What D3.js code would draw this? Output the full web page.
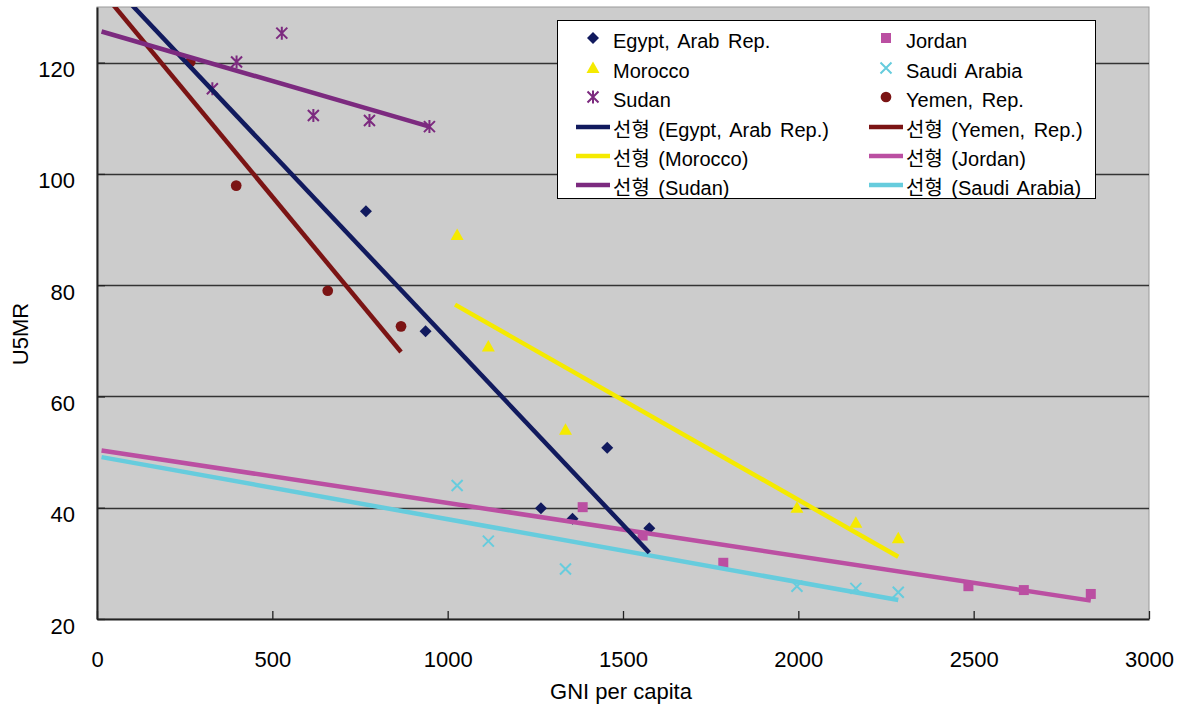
<!DOCTYPE html>
<html>
<head>
<meta charset="utf-8">
<script src="https://cdn.jsdelivr.net/npm/d3@7"></script>
<style>
  body { margin: 0; background: #fff; }
  text { font-family: "Liberation Sans", Arial, "Noto Sans CJK KR", sans-serif; fill: #000; }
</style>
</head>
<body>
<div id="chart"></div>
<script>
// U5MR vs GNI per capita, six countries with linear trend lines
var egyptX = [767, 937, 1266, 1356, 1455, 1575];
var egyptY = [93.3, 71.7, 39.9, 38.0, 50.8, 36.3];
var jordanX = [1385, 1556, 1786, 2485, 2643, 2834];
var jordanY = [40.1, 35.0, 30.1, 25.9, 25.2, 24.5];
var moroccoX = [1027, 1116, 1336, 1996, 2164, 2285];
var moroccoY = [89.0, 69.0, 54.0, 40.0, 37.3, 34.5];
var saudiX = [1027, 1116, 1336, 1996, 2164, 2285];
var saudiY = [44.0, 34.0, 29.0, 25.9, 25.5, 24.8];
var sudanX = [329, 398, 527, 617, 777, 948];
var sudanY = [115.3, 120.1, 125.3, 110.5, 109.6, 108.5];
var yemenX = [266, 397, 658, 867];
var yemenY = [120.1, 97.9, 79.0, 72.6];

// linear trend endpoints [x0, y0, x1, y1]
var egyptTrend = [0, 137.0, 1575, 31.9];
var jordanTrend = [13, 50.3, 2834, 23.3];
var moroccoTrend = [1021, 76.5, 2285, 31.2];
var saudiTrend = [13, 49.1, 2285, 23.4];
var sudanTrend = [13, 125.6, 948, 108.5];
var yemenTrend = [0, 133.9, 867, 68.0];

var xTicks = [0, 500, 1000, 1500, 2000, 2500, 3000];
var yTicks = [20, 40, 60, 80, 100, 120];

var series = [
    { name: "Egypt, Arab Rep.", xs: egyptX, ys: egyptY, trend: egyptTrend, color: "#111a5e", marker: "diamond" },
    { name: "Jordan", xs: jordanX, ys: jordanY, trend: jordanTrend, color: "#bb4fa2", marker: "square" },
    { name: "Morocco", xs: moroccoX, ys: moroccoY, trend: moroccoTrend, color: "#f5ea00", marker: "triangle" },
    { name: "Saudi Arabia", xs: saudiX, ys: saudiY, trend: saudiTrend, color: "#66ccdd", marker: "x" },
    { name: "Sudan", xs: sudanX, ys: sudanY, trend: sudanTrend, color: "#7c2a7f", marker: "star" },
    { name: "Yemen, Rep.", xs: yemenX, ys: yemenY, trend: yemenTrend, color: "#7b1414", marker: "circle" }
];
var byName = {};
series.forEach(function(s) { byName[s.name] = s; });

var svgWidth = 1181;
var svgHeight = 710;
var margin = { top: 7, right: 32, bottom: 91, left: 97 };
var width = svgWidth - margin.left - margin.right;
var height = svgHeight - margin.top - margin.bottom;

var svg = d3.select("#chart")
    .append("svg")
    .attr("width", svgWidth)
    .attr("height", svgHeight);

var chartGroup = svg.append("g")
    .attr("transform", `translate(${margin.left}, ${margin.top})`);

var xScale = d3.scaleLinear().domain([0, 3000]).range([0, width]);
var yScale = d3.scaleLinear().domain([20, 130]).range([height, 0]);

chartGroup.append("rect")
    .attr("width", width)
    .attr("height", height)
    .attr("fill", "#cccccc")
    .attr("stroke", "#9a9a9a")
    .attr("stroke-width", 1);

svg.append("clipPath").attr("id", "plotClip")
    .append("rect")
    .attr("width", width)
    .attr("height", height);

// gridlines
chartGroup.selectAll(".grid")
    .data(yTicks.slice(1))
    .enter()
    .append("line")
    .attr("x1", 0)
    .attr("x2", width)
    .attr("y1", d => Math.round(yScale(d)) + 0.5)
    .attr("y2", d => Math.round(yScale(d)) + 0.5)
    .attr("stroke", "#333")
    .attr("stroke-width", 1.3);

// axes
var bottomAxis = d3.axisBottom(xScale).tickValues(xTicks).tickFormat(d3.format("d"))
    .tickSizeInner(-8).tickSizeOuter(0).tickPadding(0);
var leftAxis = d3.axisLeft(yScale).tickValues(yTicks).tickFormat(d3.format("d"))
    .tickSizeInner(-8).tickSizeOuter(0).tickPadding(22);

var xAxisG = chartGroup.append("g")
    .attr("transform", `translate(0, ${height})`)
    .call(bottomAxis);
xAxisG.selectAll("text").attr("y", 48).attr("dy", null).attr("font-size", "22px");

var yAxisG = chartGroup.append("g").call(leftAxis);
yAxisG.selectAll("text").attr("y", 14).attr("dy", null).attr("font-size", "22px");

[xAxisG, yAxisG].forEach(function(g) {
    g.attr("font-family", null);
    g.select(".domain").attr("stroke", "#222").attr("stroke-width", 2);
    g.selectAll(".tick line").attr("stroke", "#222").attr("stroke-width", 1.3);
});

// markers
function markerPath(type) {
    if (type == "diamond") return "M0,-6L6,0L0,6L-6,0Z";
    if (type == "square") return "M-5,-5H5V5H-5Z";
    if (type == "triangle") return "M0,-6.5L6.5,5H-6.5Z";
    if (type == "circle") return d3.symbol().type(d3.symbolCircle).size(90)();
    if (type == "x") return "M-5.5,-5.5L5.5,5.5M-5.5,5.5L5.5,-5.5";
    return "M-5.5,-5.5L5.5,5.5M-5.5,5.5L5.5,-5.5M0,-6.5L0,6.5";
}
function drawMarker(g, s, px, py) {
    var stroked = s.marker == "x" || s.marker == "star";
    g.append("path")
        .attr("d", markerPath(s.marker))
        .attr("transform", `translate(${px}, ${py})`)
        .attr("fill", stroked ? "none" : s.color)
        .attr("stroke", stroked ? s.color : "none")
        .attr("stroke-width", 2);
}

var pointsGroup = chartGroup.append("g").attr("clip-path", "url(#plotClip)");
series.forEach(function(s) {
    s.xs.forEach(function(v, i) {
        drawMarker(pointsGroup, s, xScale(v), yScale(s.ys[i]));
    });
});

// trend lines, drawn over the markers
var trendOrder = ["Jordan", "Saudi Arabia", "Morocco", "Egypt, Arab Rep.", "Yemen, Rep.", "Sudan"];
var trendGroup = chartGroup.append("g").attr("clip-path", "url(#plotClip)");
trendOrder.forEach(function(n) {
    var s = byName[n];
    trendGroup.append("line")
        .attr("x1", xScale(s.trend[0]))
        .attr("y1", yScale(s.trend[1]))
        .attr("x2", xScale(s.trend[2]))
        .attr("y2", yScale(s.trend[3]))
        .attr("stroke", s.color)
        .attr("stroke-width", 4.5);
});

// axis titles
svg.append("text")
    .attr("x", 621)
    .attr("y", 699)
    .attr("text-anchor", "middle")
    .attr("font-size", "22px")
    .text("GNI per capita");

svg.append("text")
    .attr("transform", "translate(28, 334) rotate(-90)")
    .attr("text-anchor", "middle")
    .attr("font-size", "22px")
    .text("U5MR");

// legend
var legend = svg.append("g");
legend.append("rect")
    .attr("x", 557.5)
    .attr("y", 20.5)
    .attr("width", 538)
    .attr("height", 178)
    .attr("fill", "#fff")
    .attr("stroke", "#000")
    .attr("stroke-width", 1);

var legendRows = [41, 71, 100, 130, 159, 188];
var legendCols = [
    ["Egypt, Arab Rep.", "Morocco", "Sudan", "Egypt, Arab Rep.", "Morocco", "Sudan"],
    ["Jordan", "Saudi Arabia", "Yemen, Rep.", "Yemen, Rep.", "Jordan", "Saudi Arabia"]
];
var colX = [576, 869];

legendCols.forEach(function(names, c) {
    names.forEach(function(n, r) {
        var s = byName[n];
        var yy = legendRows[r];
        if (r < 3) {
            drawMarker(legend, s, colX[c] + 17, yy - 3);
        } else {
            legend.append("line")
                .attr("x1", colX[c])
                .attr("x2", colX[c] + 34)
                .attr("y1", yy - 3)
                .attr("y2", yy - 3)
                .attr("stroke", s.color)
                .attr("stroke-width", 4.5);
        }
        legend.append("text")
            .attr("x", colX[c] + 37)
            .attr("y", yy + 7)
            .attr("font-size", "20px")
            .attr("word-spacing", "3px")
            .text(r < 3 ? n : `선형 (${n})`);
    });
});
</script>
</body>
</html>
